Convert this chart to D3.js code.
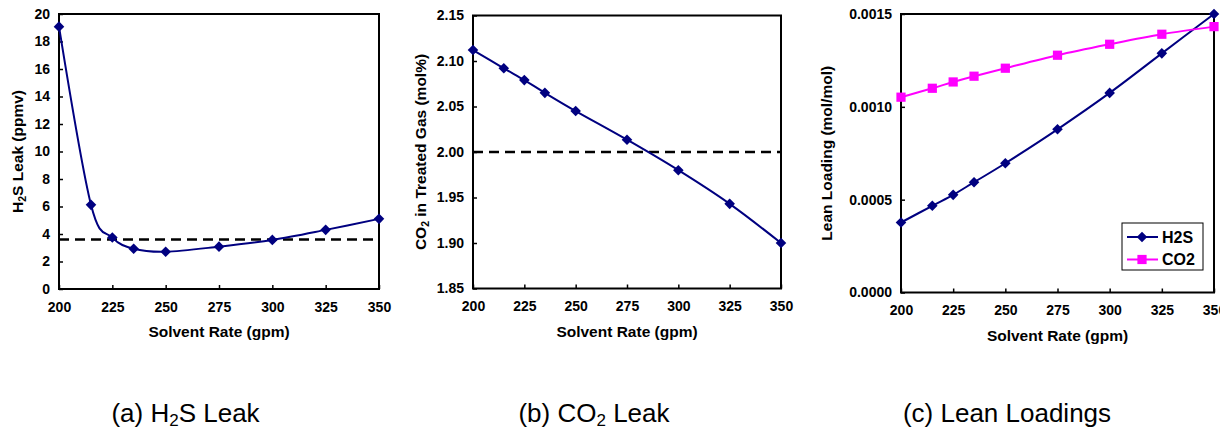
<!DOCTYPE html>
<html><head><meta charset="utf-8">
<script src="https://cdn.jsdelivr.net/npm/d3@7"></script>
<style>
html,body{margin:0;padding:0;background:#fff;}
svg{display:block;font-family:"Liberation Sans",Arial,sans-serif;}
</style></head>
<body>
<svg id="chart" width="1220" height="429"></svg>
<script>
// ---- data ----
const solventRate = [200, 215, 225, 235, 250, 275, 300, 325, 350];
const xTicks = [200, 225, 250, 275, 300, 325, 350];

const h2sLeak = [19.08, 6.12, 3.74, 2.93, 2.71, 3.08, 3.57, 4.3, 5.1];
const h2sLimit = 3.6;
const h2sTicks = [0, 2, 4, 6, 8, 10, 12, 14, 16, 18, 20];

const co2Leak = [2.112, 2.092, 2.079, 2.065, 2.045, 2.0135, 1.980, 1.943, 1.900];
const co2Limit = 2.00;
const co2Ticks = [1.85, 1.90, 1.95, 2.00, 2.05, 2.10, 2.15];

const leanH2S = [0.000377, 0.000467, 0.000526, 0.000594, 0.000696, 0.000879, 0.001075, 0.001288, 0.0015];
const leanCO2 = [0.001052, 0.0011, 0.001134, 0.001165, 0.001208, 0.001278, 0.001337, 0.001391, 0.001432];
const leanTicks = [0, 0.0005, 0.0010, 0.0015];

const seriesNames = ["H2S", "CO2"];
const NAVY = "#000080", PINK = "#ff00ff";

const svg = d3.select("#chart");
const curve = d3.curveCardinal.tension(0);

function panel(o) {
  const x = d3.scaleLinear().domain([200, 350]).range([o.L, o.R]);
  const y = d3.scaleLinear().domain(o.yDomain).range([o.B, o.T]);
  const g = svg.append("g");

  const ya = g.append("g").attr("transform", `translate(${o.L},0)`)
    .call(d3.axisLeft(y).tickValues(o.yTicks).tickFormat(o.yFmt).tickSizeInner(-4).tickSizeOuter(0).tickPadding(9));
  const xa = g.append("g").attr("transform", `translate(0,${o.B})`)
    .call(d3.axisBottom(x).tickValues(xTicks).tickFormat(d3.format("d")).tickSizeInner(-4).tickSizeOuter(0).tickPadding(13));
  [ya, xa].forEach(a => {
    a.select(".domain").remove();
    a.selectAll(".tick line").attr("stroke", "#000").attr("stroke-width", 1.5);
    a.selectAll(".tick text").attr("fill", "#000").style("font-size", "14px").style("font-weight", "bold")
      .style("font-family", '"Liberation Sans",Arial,sans-serif');
  });
  g.append("rect").attr("x", o.L).attr("y", o.T).attr("width", o.R - o.L).attr("height", o.B - o.T)
    .attr("fill", "none").attr("stroke", "#000").attr("stroke-width", 2);

  if (o.limit !== undefined) {
    g.append("line").attr("x1", o.L).attr("x2", o.R).attr("y1", y(o.limit)).attr("y2", y(o.limit))
      .attr("stroke", "#000").attr("stroke-width", 2.5).attr("stroke-dasharray", "10,6");
  }

  const line = d3.line().x((d, i) => x(solventRate[i])).y(d => y(d)).curve(curve);
  o.series.forEach(s => {
    g.append("path").datum(s.values).attr("d", line).attr("fill", "none")
      .attr("stroke", s.color).attr("stroke-width", 2);
  });
  o.series.forEach(s => {
    g.selectAll(null).data(s.values).enter().append("path")
      .attr("d", d3.symbol().type(d3.symbolSquare).size(s.marker === "diamond" ? 56 : 85))
      .attr("transform", (d, i) => `translate(${x(solventRate[i])},${y(d)})` + (s.marker === "diamond" ? " rotate(45)" : ""))
      .attr("fill", s.color);
  });

  g.append("text").attr("x", (o.L + o.R) / 2).attr("y", o.B + 48).attr("text-anchor", "middle")
    .style("font-size", "15.5px").style("font-weight", "bold").text("Solvent Rate (gpm)");
  const yt = g.append("text").attr("transform", `translate(${o.ytX},${(o.T + o.B) / 2}) rotate(-90)`)
    .attr("text-anchor", "middle").attr("dy", "0.35em").style("font-size", "15.5px").style("font-weight", "bold");
  o.yTitle.forEach(p => {
    const t = yt.append("tspan").text(p.t);
    if (p.sub) t.style("font-size", "10.5px").attr("dy", "3");
    else if (p.after) t.attr("dy", "-3");
  });

  const cap = g.append("text").attr("x", o.capX).attr("y", 422).attr("text-anchor", "middle")
    .style("font-size", "26px");
  o.caption.forEach(p => {
    const t = cap.append("tspan").text(p.t);
    if (p.sub) t.style("font-size", "17px").attr("dy", "4");
    else if (p.after) t.attr("dy", "-4");
  });
  return {g, x, y};
}

panel({
  L: 59, R: 379, T: 14, B: 289, yDomain: [0, 20], yTicks: h2sTicks, yFmt: d3.format("d"),
  limit: h2sLimit, ytX: 18,
  series: [{values: h2sLeak, color: NAVY, marker: "diamond"}],
  yTitle: [{t: "H"}, {t: "2", sub: true}, {t: "S Leak (ppmv)", after: true}],
  caption: [{t: "(a) H"}, {t: "2", sub: true}, {t: "S Leak", after: true}], capX: 185.5
});

panel({
  L: 473, R: 781, T: 15.5, B: 288.5, yDomain: [1.85, 2.15], yTicks: co2Ticks, yFmt: d3.format(".2f"),
  limit: co2Limit, ytX: 421,
  series: [{values: co2Leak, color: NAVY, marker: "diamond"}],
  yTitle: [{t: "CO"}, {t: "2", sub: true}, {t: " in Treated Gas (mol%)", after: true}],
  caption: [{t: "(b) CO"}, {t: "2", sub: true}, {t: " Leak", after: true}], capX: 594
});

panel({
  L: 901, R: 1214, T: 14, B: 292.5, yDomain: [0, 0.0015], yTicks: leanTicks, yFmt: d3.format(".4f"),
  ytX: 827,
  series: [{values: leanH2S, color: NAVY, marker: "diamond"}, {values: leanCO2, color: PINK, marker: "square"}],
  yTitle: [{t: "Lean Loading (mol/mol)"}],
  caption: [{t: "(c) Lean Loadings"}], capX: 1007
});

// legend
const lg = svg.append("g");
lg.append("rect").attr("x", 1122).attr("y", 223).attr("width", 81).attr("height", 47)
  .attr("fill", "#fff").attr("stroke", "#000").attr("stroke-width", 1);
const legItems = [{name: seriesNames[0], color: NAVY, marker: "diamond"}, {name: seriesNames[1], color: PINK, marker: "square"}];
legItems.forEach((it, i) => {
  const cy = 237 + i * 22.5;
  lg.append("line").attr("x1", 1127).attr("x2", 1158).attr("y1", cy).attr("y2", cy)
    .attr("stroke", it.color).attr("stroke-width", 2);
  lg.append("path").attr("d", d3.symbol().type(d3.symbolSquare).size(it.marker === "diamond" ? 56 : 85))
    .attr("transform", `translate(1142,${cy})` + (it.marker === "diamond" ? " rotate(45)" : ""))
    .attr("fill", it.color);
  lg.append("text").attr("x", 1162).attr("y", cy).attr("dy", "0.36em")
    .style("font-size", "16px").style("font-weight", "bold").text(it.name);
});
</script>
</body></html>
